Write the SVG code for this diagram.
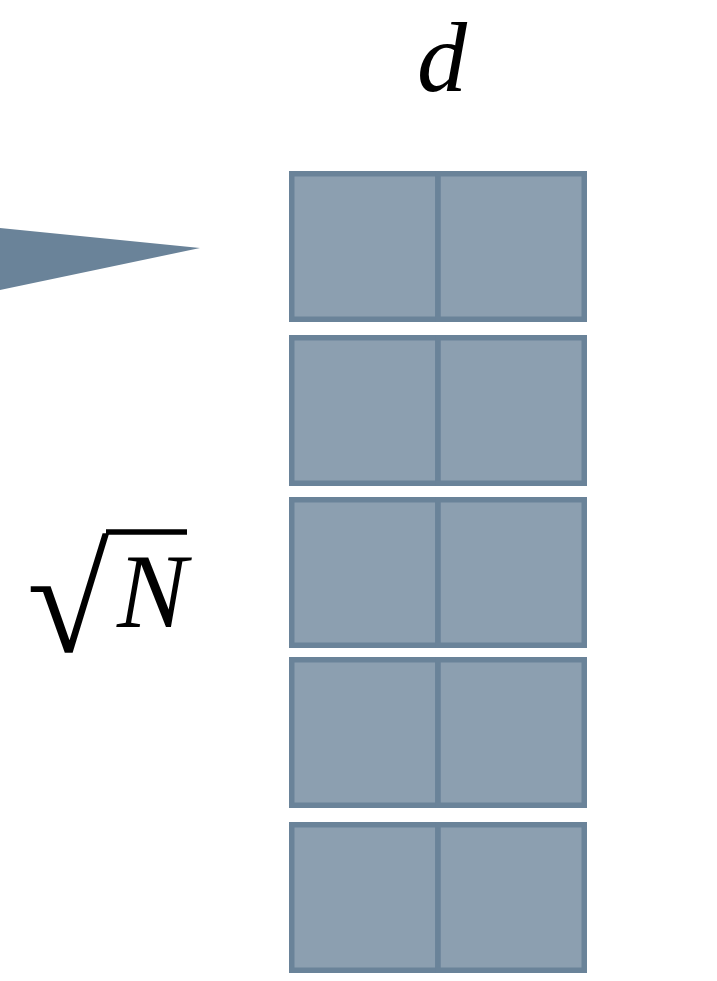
<svg xmlns="http://www.w3.org/2000/svg" width="717" height="981" viewBox="0 0 717 981">
<style>
.cell{fill:#8C9FB0;stroke:#6A8399;stroke-width:5.5}
.math{font-family:"Liberation Serif","DejaVu Serif",serif;font-style:italic;fill:#000}
</style>
<rect width="717" height="981" fill="#fff"/>
<g id="label-d"><text class="math" x="442" y="91" font-size="100" text-anchor="middle">d</text></g>
<g id="label-sqrtN">
<text x="27" y="652" font-family="Liberation Serif,DejaVu Serif,serif" font-size="150" fill="#000">√</text>
<line x1="106" y1="532" x2="187" y2="532" stroke="#000" stroke-width="5.5"/>
<text class="math" x="117" y="627" font-size="105">N</text>
</g>
<g id="pointer"><polygon points="0,228 200,248 0,290" fill="#6A8399"/></g>
<g id="row1"><rect class="cell" x="291.75" y="173.75" width="146.25" height="145.5"/><rect class="cell" x="438" y="173.75" width="146.25" height="145.5"/></g>
<g id="row2"><rect class="cell" x="291.75" y="337.75" width="146.25" height="145.5"/><rect class="cell" x="438" y="337.75" width="146.25" height="145.5"/></g>
<g id="row3"><rect class="cell" x="291.75" y="499.75" width="146.25" height="145.5"/><rect class="cell" x="438" y="499.75" width="146.25" height="145.5"/></g>
<g id="row4"><rect class="cell" x="291.75" y="659.75" width="146.25" height="145.5"/><rect class="cell" x="438" y="659.75" width="146.25" height="145.5"/></g>
<g id="row5"><rect class="cell" x="291.75" y="824.75" width="146.25" height="145.5"/><rect class="cell" x="438" y="824.75" width="146.25" height="145.5"/></g>
<g id="connectors"></g>
</svg>
